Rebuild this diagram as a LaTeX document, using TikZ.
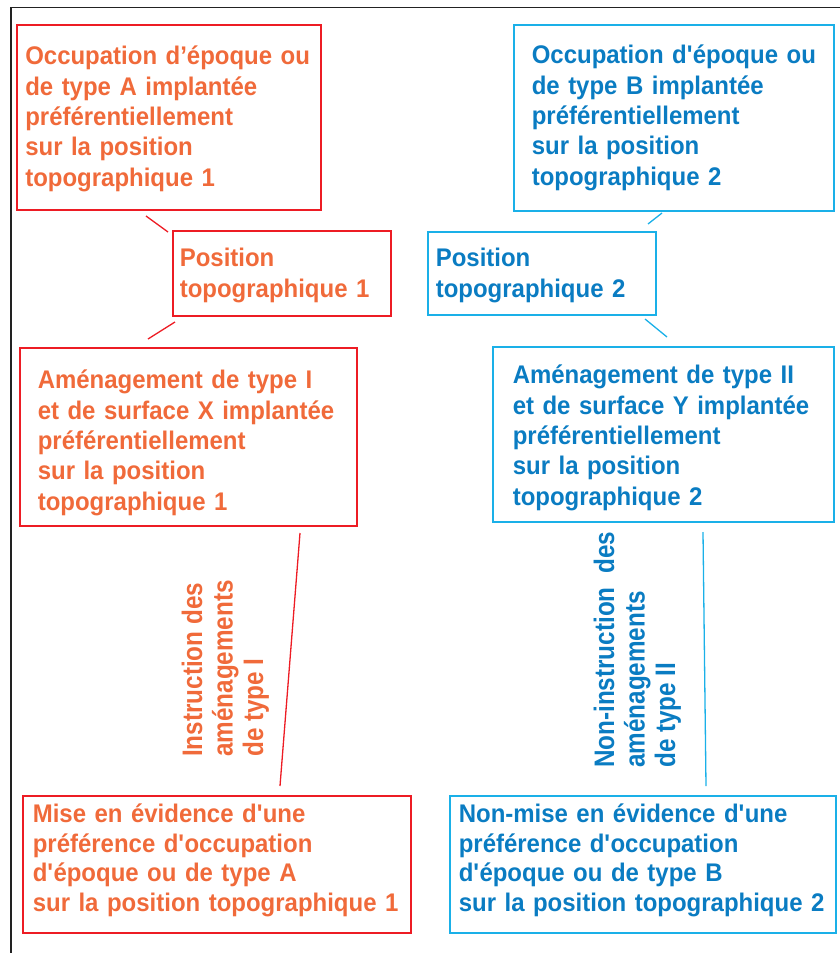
\documentclass[tikz,border=0pt]{standalone}
\usepackage{fontspec}
\newfontfamily\boxfont{Liberation Sans}[FakeStretch=0.94]
\newfontfamily\vertfont{Liberation Sans}[FakeStretch=0.86]
\definecolor{redline}{HTML}{ED1C24}
\definecolor{redtext}{HTML}{F06A3A}
\definecolor{blueline}{HTML}{1AB0E8}
\definecolor{bluetext}{HTML}{0A7CC2}
\definecolor{framec}{HTML}{222222}
\begin{document}
\begin{tikzpicture}[x=1pt,y=-1pt,
  boxbase/.style={draw, line width=1.6pt, anchor=north west, inner ysep=0pt, align=left,
    font={\boxfont\bfseries\fontsize{25.5}{30.3}\selectfont}},
  redbox/.style={boxbase, draw=redline, text=redtext},
  bluebox/.style={boxbase, draw=blueline, text=bluetext},
  vlab/.style={rotate=90, anchor=north west, inner sep=0pt, align=left,
    font={\vertfont\bfseries\fontsize{28.2}{30.5}\selectfont}},
  redcon/.style={draw=redline, line width=1.3pt},
  bluecon/.style={draw=blueline, line width=1.3pt}]
\useasboundingbox (0,0) rectangle (840,953);
% frame
\draw[framec, line width=1.6pt] (11,953) -- (11,7.5) -- (840,7.5);
% left column
\node[redbox, text width=287pt, inner xsep=8.5pt] (occA) at (16,24)
  {\rule{0pt}{40pt}\mbox{Occupation d’époque ou}\\de type A implantée\\préférentiellement\\sur la position\\topographique 1\rule[-24pt]{0pt}{24pt}};
\node[redbox, text width=204pt, inner xsep=7pt] (pos1) at (172,230)
  {\rule{0pt}{36pt}Position\\topographique 1\rule[-19pt]{0pt}{19pt}};
\node[redbox, text width=301pt, inner xsep=18pt] (amI) at (19,347)
  {\rule{0pt}{41pt}Aménagement de type I\\\mbox{et de surface X implantée}\\préférentiellement\\sur la position\\topographique 1\rule[-16pt]{0pt}{16pt}};
\node[redbox, text width=368pt, inner xsep=10pt, font={\boxfont\bfseries\fontsize{25.5}{29.4}\selectfont}] (miseA) at (22,795)
  {\rule{0pt}{27pt}Mise en évidence d\textquotesingle une\\préférence d\textquotesingle occupation\\d\textquotesingle époque ou de type A\\\mbox{sur la position topographique 1}\rule[-22pt]{0pt}{22pt}};
% right column
\node[bluebox, text width=284pt, inner xsep=18pt] (occB) at (513,24)
  {\rule{0pt}{39pt}\mbox{Occupation d\textquotesingle époque ou}\\de type B implantée\\préférentiellement\\sur la position\\topographique 2\rule[-26pt]{0pt}{26pt}};
\node[bluebox, text width=212pt, inner xsep=8pt] (pos2) at (427,231)
  {\rule{0pt}{35pt}Position\\topographique 2\rule[-18pt]{0pt}{18pt}};
\node[bluebox, text width=301pt, inner xsep=20pt] (amII) at (492,346)
  {\rule{0pt}{37pt}Aménagement de type II\\\mbox{et de surface Y implantée}\\préférentiellement\\sur la position\\topographique 2\rule[-17pt]{0pt}{17pt}};
\node[bluebox, text width=368pt, inner xsep=9pt, font={\boxfont\bfseries\fontsize{25.5}{29.4}\selectfont}] (miseB) at (449,795)
  {\rule{0pt}{27pt}Non-mise en évidence d\textquotesingle une\\préférence d\textquotesingle occupation\\d\textquotesingle époque ou de type B\\\mbox{sur la position topographique 2}\rule[-22pt]{0pt}{22pt}};
% vertical labels
\node[vlab, text=redtext] (instr) at (177,757)
  {\rule{0pt}{25pt}Instruction des\\aménagements\\de type I};
\node[vlab, text=bluetext] (noninstr) at (589,768)
  {\rule{0pt}{25pt}Non-instruction\ \ des\\aménagements\\de type II};
% connectors
\coordinate (a1) at (146,216); \coordinate (a2) at (168,232);
\coordinate (b1) at (175,322); \coordinate (b2) at (148,339);
\coordinate (c1) at (662,213); \coordinate (c2) at (648,224);
\coordinate (d1) at (645,319); \coordinate (d2) at (667,337);
\coordinate (e1) at (300,533); \coordinate (e2) at (280,786);
\coordinate (f1) at (703,532); \coordinate (f2) at (706,786);
\draw[redcon] (a1) -- (a2);
\draw[redcon] (b1) -- (b2);
\draw[bluecon] (c1) -- (c2);
\draw[bluecon] (d1) -- (d2);
\draw[redcon] (e1) -- (e2);
\draw[bluecon] (f1) -- (f2);
\end{tikzpicture}
\end{document}
